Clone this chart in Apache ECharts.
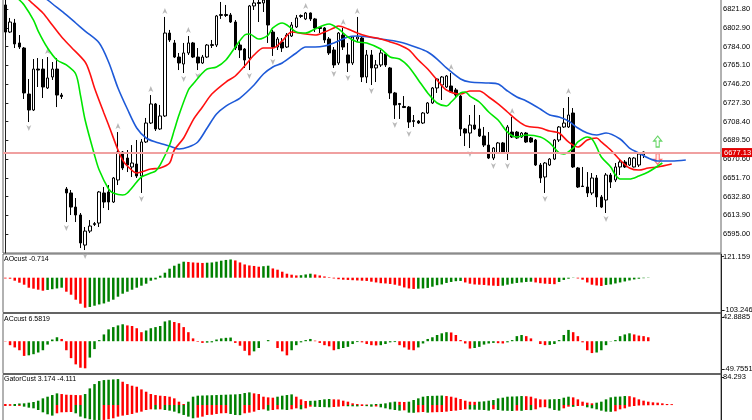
<!DOCTYPE html>
<html>
<head>
<meta charset="utf-8">
<script src="https://cdn.jsdelivr.net/npm/echarts@6/dist/echarts.min.js"></script>
<style>
html, body { margin: 0; padding: 0; background: #fff; }
#main { width: 752px; height: 420px; }
</style>
</head>
<body>
<div id="main"></div>
<script>
// bars: [open, close, low, high]
var candles = [
  [6825.9,6798.6,6790.6,6833.9],[6798.6,6808.7,6797.6,6812.8],[6807.7,6786.6,6782.5,6811.8],[6787.6,6783.5,6781.5,6795.6],
  [6782.5,6737.2,6731.1,6783.5],[6736.1,6720.0,6707.9,6751.3],[6720.0,6761.3,6719.0,6771.4],[6761.3,6760.3,6743.2,6772.4],
  [6761.3,6743.2,6732.1,6771.4],[6742.2,6752.3,6741.2,6773.4],[6753.3,6761.3,6750.3,6768.4],[6761.3,6735.1,6723.0,6772.4],
  [6735.1,6733.6,6731.1,6737.2],[6640.4,6636.4,6607.1,6642.4],[6636.4,6622.2,6614.2,6639.4],[6622.2,6614.2,6607.1,6631.3],
  [6614.2,6586.0,6580.9,6616.2],[6583.9,6598.0,6578.9,6602.1],[6598.0,6603.1,6596.0,6609.1],[6604.6,6605.6,6603.1,6607.1],
  [6606.1,6637.4,6602.1,6638.4],[6636.4,6627.3,6621.2,6642.4],[6637.4,6627.3,6619.2,6644.4],[6627.3,6651.5,6626.3,6652.5],
  [6649.5,6677.7,6644.4,6697.8],[6677.7,6661.6,6659.5,6678.7],[6671.6,6664.6,6657.5,6679.7],[6662.6,6666.6,6652.5,6684.7],
  [6665.6,6653.5,6651.5,6689.8],[6653.5,6687.8,6636.4,6690.8],[6687.8,6706.9,6686.8,6712.0],[6706.9,6726.1,6705.9,6735.1],
  [6726.1,6700.9,6698.9,6727.1],[6700.9,6714.0,6699.9,6725.1],[6714.0,6797.6,6713.0,6813.8],[6797.6,6790.6,6788.6,6800.7],
  [6787.6,6773.4,6772.4,6790.6],[6773.4,6767.4,6760.3,6777.5],[6766.4,6777.5,6757.3,6787.6],[6777.5,6787.6,6775.5,6794.6],
  [6787.6,6773.4,6772.4,6788.6],[6773.4,6767.4,6760.3,6782.5],[6767.4,6773.4,6766.4,6775.5],[6773.4,6785.5,6772.4,6786.5],
  [6785.0,6786.0,6782.5,6790.6],[6785.5,6814.8,6783.5,6815.8],[6815.3,6816.3,6811.8,6828.9],[6816.3,6815.3,6813.8,6825.9],
  [6815.8,6808.7,6807.7,6817.8],[6808.7,6782.5,6780.5,6810.7],[6785.5,6780.5,6772.4,6788.6],[6781.5,6770.4,6762.4,6782.5],
  [6772.4,6824.9,6760.3,6825.9],[6824.9,6827.9,6820.8,6835.9],[6828.4,6827.4,6808.7,6835.9],[6827.9,6830.9,6818.8,6839.0],
  [6835.9,6805.7,6787.6,6841.0],[6798.6,6783.5,6774.5,6800.7],[6783.5,6791.6,6780.5,6793.6],[6788.6,6782.5,6778.5,6792.6],
  [6783.5,6795.6,6782.5,6797.6],[6794.6,6805.7,6793.6,6808.7],[6803.7,6812.8,6802.7,6815.8],[6814.3,6815.3,6812.8,6816.3],
  [6811.8,6817.8,6810.7,6818.8],[6817.8,6811.8,6809.7,6818.3],[6811.8,6802.7,6798.6,6812.8],[6803.2,6802.2,6797.6,6803.7],
  [6802.7,6790.6,6787.6,6803.7],[6791.6,6777.5,6775.5,6793.6],[6780.5,6765.4,6762.4,6783.5],[6767.4,6797.6,6765.4,6798.6],
  [6795.6,6783.5,6780.5,6802.7],[6775.5,6767.4,6758.3,6787.6],[6767.4,6793.6,6765.4,6794.6],[6791.6,6793.6,6788.6,6813.8],
  [6792.6,6753.3,6748.2,6793.6],[6753.3,6775.5,6747.2,6780.5],[6775.5,6762.4,6745.2,6780.5],[6762.4,6765.4,6748.2,6770.4],
  [6765.4,6777.5,6763.4,6780.5],[6776.5,6765.4,6763.4,6777.5],[6762.4,6737.2,6731.1,6763.4],[6737.2,6725.1,6711.0,6738.2],
  [6726.6,6725.6,6711.0,6727.1],[6723.6,6722.5,6722.0,6734.1],[6723.0,6707.9,6701.9,6724.0],[6708.4,6709.4,6702.9,6715.0],
  [6708.9,6706.9,6705.9,6709.9],[6706.9,6717.0,6705.9,6718.0],[6717.0,6727.1,6716.0,6728.1],[6727.1,6742.2,6726.1,6743.2],
  [6742.2,6751.3,6737.2,6752.3],[6745.2,6753.3,6730.1,6754.3],[6743.2,6754.3,6742.2,6755.3],[6744.2,6738.2,6737.2,6757.3],
  [6740.2,6735.1,6733.1,6742.2],[6734.1,6700.9,6693.8,6735.1],[6700.9,6696.8,6683.7,6701.9],[6696.8,6704.9,6681.7,6715.0],
  [6704.9,6700.9,6699.9,6725.1],[6700.9,6693.8,6692.8,6715.0],[6693.8,6684.7,6682.7,6702.9],[6684.7,6671.6,6670.6,6697.8],
  [6671.6,6681.7,6669.6,6682.7],[6676.7,6686.8,6675.7,6687.8],[6686.8,6676.7,6676.2,6687.8],[6676.7,6702.9,6669.6,6704.9],
  [6697.8,6692.8,6691.8,6713.0],[6697.8,6691.8,6690.8,6698.9],[6692.8,6696.8,6691.8,6697.8],[6696.8,6687.8,6686.8,6697.8],
  [6691.8,6687.8,6686.8,6692.8],[6689.8,6664.6,6663.6,6690.8],[6664.6,6651.5,6646.5,6666.6],[6652.5,6666.6,6636.4,6667.6],
  [6664.6,6670.6,6663.6,6671.6],[6670.6,6689.8,6669.6,6690.8],[6689.8,6702.9,6687.8,6703.9],[6702.9,6706.9,6701.9,6722.0],
  [6702.9,6715.0,6701.9,6733.1],[6717.0,6662.6,6661.6,6722.0],[6661.6,6642.4,6641.4,6662.6],[6643.4,6642.9,6642.4,6662.6],
  [6642.4,6636.4,6632.3,6657.5],[6636.4,6651.5,6634.3,6656.5],[6651.5,6632.3,6622.2,6654.5],[6632.3,6622.2,6621.2,6634.3],
  [6629.3,6654.5,6616.2,6656.5],[6654.5,6647.4,6641.4,6656.5],[6649.5,6662.6,6647.4,6666.6],[6662.6,6667.6,6654.5,6669.6],
  [6667.6,6662.6,6661.6,6669.6],[6664.6,6671.6,6663.6,6672.6],[6662.6,6671.6,6662.1,6672.6],[6664.6,6675.7,6662.6,6676.7],
  [6674.7,6677.7,6671.6,6678.2],[6676.6,6677.1,6676.4,6677.4]
];

// alligator lines, [bar, price] (shifted forward past the last bar)
var jaw = [[6,6843.0],[9,6830.9],[13,6815.8],[15,6807.7],[17,6799.6],[20,6787.6],[22,6768.4],[24,6742.2],[26,6721.0],
  [28,6701.9],[30,6691.8],[32,6687.8],[35,6683.7],[37,6680.7],[39,6682.7],[41,6687.8],[43,6701.9],[45,6716.0],[47,6724.0],
  [50,6732.1],[53,6745.2],[55,6756.3],[57,6763.4],[59,6767.4],[62,6777.5],[64,6783.5],[66,6783.5],[68,6784.5],[70,6787.6],
  [73,6793.6],[75,6794.6],[80,6791.6],[84,6788.6],[88,6782.5],[90,6778.5],[92,6771.4],[94,6762.4],[97,6751.3],[99,6748.2],
  [103,6747.2],[105,6746.2],[107,6739.2],[109,6733.1],[111,6729.1],[114,6721.0],[116,6715.0],[118,6713.0],[120,6708.9],
  [122,6701.9],[124,6696.8],[126,6694.8],[128,6696.8],[131,6690.8],[133,6681.7],[135,6676.7],[137,6671.6],[139,6668.6],
  [142,6668.6],[145,6669.6]];
var teeth = [[4,6836.9],[5,6830.9],[8,6817.8],[10,6805.7],[12,6793.6],[14,6783.5],[17,6768.4],[18,6757.3],[19,6742.2],
  [21,6717.0],[22,6704.9],[24,6679.7],[25,6669.6],[26,6663.6],[28,6656.5],[29,6657.5],[31,6660.5],[33,6661.6],[35,6666.6],
  [36,6679.7],[38,6691.8],[40,6709.9],[42,6723.0],[44,6736.1],[47,6748.2],[49,6754.3],[51,6764.4],[53,6775.5],[55,6782.5],
  [57,6782.5],[59,6789.6],[61,6798.6],[64,6796.6],[66,6795.6],[68,6798.6],[70,6802.7],[71,6804.7],[73,6801.7],[75,6797.6],
  [77,6794.6],[80,6791.6],[82,6788.6],[84,6785.5],[86,6780.5],[88,6770.4],[90,6761.3],[92,6750.3],[94,6740.2],[97,6736.1],
  [99,6739.2],[101,6739.2],[103,6733.1],[105,6726.1],[107,6718.0],[109,6709.9],[111,6703.9],[114,6701.9],[116,6698.8],
  [118,6696.8],[120,6687.8],[122,6682.7],[124,6689.8],[126,6691.8],[127,6687.8],[129,6679.7],[131,6669.6],[133,6661.6],
  [135,6659.5],[137,6661.6],[139,6662.6],[142,6665.6]];
var lips = [[1,6839.0],[3,6830.9],[4,6825.9],[6,6810.7],[7,6799.6],[9,6782.5],[11,6770.4],[13,6765.4],[15,6756.3],
  [16,6735.1],[17,6709.9],[19,6674.7],[20,6659.5],[22,6640.4],[23,6636.4],[25,6634.3],[26,6636.4],[28,6647.4],[29,6652.5],
  [31,6656.5],[32,6658.5],[33,6664.6],[35,6684.7],[36,6699.8],[37,6715.0],[39,6740.2],[40,6746.2],[42,6757.3],[43,6761.3],
  [45,6763.4],[47,6770.4],[49,6783.5],[51,6795.6],[52,6796.6],[54,6791.6],[56,6795.6],[57,6802.7],[59,6807.7],[60,6805.7],
  [62,6798.6],[64,6797.6],[66,6801.7],[68,6805.7],[69,6806.7],[71,6801.7],[73,6793.6],[75,6788.6],[77,6787.6],[80,6781.5],
  [82,6773.4],[84,6771.4],[86,6763.4],[88,6750.3],[90,6737.2],[92,6727.1],[94,6724.0],[95,6728.1],[97,6737.2],[98,6738.2],
  [99,6734.1],[101,6728.1],[103,6718.0],[105,6709.9],[107,6697.8],[109,6692.8],[111,6694.8],[114,6692.8],[116,6686.8],
  [118,6676.7],[119,6675.7],[121,6681.7],[122,6687.8],[124,6692.8],[125,6690.8],[126,6682.7],[127,6672.6],[129,6662.6],
  [130,6654.5],[131,6650.5],[133,6650.5],[135,6653.5],[137,6657.5],[140,6666.6]];

var fractalUp = [9, 24, 31, 34, 39, 64, 72, 75, 95, 108, 120];
var fractalDown = [5, 13, 17, 29, 38, 41, 52, 57, 70, 73, 78, 83, 86, 99, 104, 107, 115, 128];
var signalUp = [[139, 6688.2]];
var signalDown = [[139, 6670.6]];
var lastPrice = 6677.13;
var priceTicks = [6595.00, 6613.90, 6632.80, 6651.70, 6670.60, 6689.50, 6708.40, 6727.30, 6746.20, 6765.10, 6784.00, 6802.90, 6821.80];

var aoValues = [-3,-4,-12,-20,-28,-40,-44,-48,-52,-49,-46,-43,-40,-56,-68,-88,-104,-120,-117,-112,
  -107,-103,-96,-88,-76,-64,-56,-48,-40,-32,-24,-12,-7,8,20,36,48,56,64,63,
  61,60,59,60,61,64,68,71,73,69,61,53,49,47,44,46,48,37,32,24,
  16,12,9,10,13,16,13,9,5,2,-3,-6,-8,-9,-10,-11,-12,-13,-16,-19,
  -22,-23,-25,-28,-32,-39,-43,-45,-44,-43,-41,-36,-30,-27,-21,-17,-14,-13,-19,-24,
  -27,-28,-29,-31,-32,-33,-32,-28,-24,-21,-19,-17,-16,-19,-22,-24,-25,-26,-17,-9,
  -4,-1,-3,-8,-19,-28,-31,-33,-29,-27,-23,-19,-15,-11,-7,-4,-2,-1];
var acValues = [-0.5,-7,-11,-16,-26,-25,-23,-20,-16,-6,3,7,4,-16,-30,-41,-47,-48,-29,-14,
  2,12,21,25,28,30,28,27,23,16,19,23,25,27,35,37,34,32,25,16,
  5,-1,-3,-2.5,-2,3,5,6,6.5,-3,-8,-17,-25,-18,-12,0,2,0,-12,-18,
  -25,-16,-7,-2,2,4,1,-3,-7,-9,-16,-14,-12,-10,-5,-1.5,-2,-5,-7,-7.5,
  -7,-5,-2,-1.5,-7,-11,-15,-16,-11,-4,4,7,11,14,16,15.5,11,2,-4,-13,
  -12,-10,-6,-4,-3,-3.5,-4,-2,2,9,11,9,5,0,-5,-7,-6.5,-5,2,11,
  20,16,9,-2,-16,-21,-20,-16,-7,-0.5,2,9,12,14,12,10,9,7];
var gatorUp = [3,2.5,3,4.5,5,7,9,13,20,25,30,35,33,31,30.5,30,29.5,33,50,63,
  72,75,76,77,78,70,63,58,55,47,40,33,30,28,27,25,20,10,3,10,
  25,28,28.5,29,29.5,30,30.5,31,31.5,32,33,36,38,35,33,25,23,22,25,28,
  30,32,25,17,12,12.5,13,15,17,18,17,16.5,13,10,5,3,2,1.5,2,3,
  3.5,5,8,10,9.5,9,10,15,20,25,27,27.5,28,28.5,27,25,22,18,13,10,
  9.5,10,11,13,15,20,22,25,25.5,26,27,26.5,25,20,17,16.5,17,17.5,18,22,
  25,23,17,10,7,5,7,10,17,23,25,25.5,27,26.5,23,17,13,10,8,7,5,3,2.5];
var gatorDown = [-3,-2.5,-3,-2.8,-5,-8,-10,-15,-22,-28,-32,-25,-22,-21.5,-21,-25,-35,-40,-43,-45,
  -45.5,-45,-43,-40,-35,-32,-30,-27,-23,-20,-15,-13,-13.5,-13,-15,-17,-20,-25,-30,-35,
  -40,-38,-35,-30,-29.5,-27,-25,-24.5,-27,-30,-30.5,-25,-23,-20,-15,-13,-17,-15,-13,-13.5,
  -15,-13,-10,-13,-10,-5,-5.5,-6,-6.5,-7,-6,-5,-3.5,-3.8,-4,-4.2,-3,-3.5,-5,-4.5,
  -7,-10,-13,-15,-17,-16,-23,-23.5,-22,-21,-23,-22,-21.5,-21,-20,-18,-17,-15,-13,-13.5,
  -14,-14.5,-15,-17,-13,-15,-17,-17.5,-18,-17,-17.5,-15,-15.5,-13,-7,-6.5,-10,-15,-17,-10,
  -5,-5.5,-3,-2.5,-7,-10,-13,-17,-20,-20.5,-19,-13,-10,-5,-3,-1.5,-1,-0.8,-0.6,-0.5,-0.4,-0.3,-0.2];

var aoTicks = [121.159, -103.246];
var acTicks = [42.8885, -49.7551];
var gatorTicks = [84.293];
var aoTitle = 'AOcust -0.714';
var acTitle = 'ACcust 6.5819';
var gatorTitle = 'GatorCust 3.174 -4.111';

var N = 153;
var bars = [];
for (var i = 0; i < N; i++) bars.push(i);

var FONT = 'Liberation Sans';
var GREEN = '#008000', RED = '#ff0000';
var frame = { show: true, borderColor: '#646464', borderWidth: 1, backgroundColor: '#fff' };

function rising(arr, i, useAbs) {
  if (i === 0) return false;
  return useAbs ? Math.abs(arr[i]) > Math.abs(arr[i - 1]) : arr[i] > arr[i - 1];
}
function colorBy(arr, useAbs) {
  return function (p) { return rising(arr, p.dataIndex, useAbs) ? GREEN : RED; };
}
function catAxis(grid) {
  return { type: 'category', gridIndex: grid, data: bars, show: false, boundaryGap: true };
}
function labelAxis(grid, min, max, ticks, fmt) {
  return {
    type: 'value', gridIndex: grid, position: 'right', min: min, max: max,
    axisLine: { show: true, lineStyle: { color: '#222', width: 1 } },
    axisTick: { show: true, length: 3, lineStyle: { color: '#222' }, customValues: ticks },
    axisLabel: { customValues: ticks, formatter: fmt, margin: 2, fontSize: 7.5, color: '#000', fontFamily: FONT },
    splitLine: { show: false }
  };
}

var fractalArrow = 'path://M5,0 L10,9 L5,6.5 L0,9 Z';
var blockArrow = 'path://M5,0 L10,5 L7,5 L7,11 L3,11 L3,5 L0,5 Z';

var myChart = echarts.init(document.getElementById('main'));
var option = {
  animation: false,
  backgroundColor: '#fff',
  textStyle: { fontFamily: FONT },
  title: [
    { text: aoTitle, left: 4, top: 256, padding: 0, textStyle: { fontSize: 7, fontWeight: 'normal', color: '#000', fontFamily: FONT } },
    { text: acTitle, left: 4, top: 316, padding: 0, textStyle: { fontSize: 7, fontWeight: 'normal', color: '#000', fontFamily: FONT } },
    { text: gatorTitle, left: 4, top: 376, padding: 0, textStyle: { fontSize: 7, fontWeight: 'normal', color: '#000', fontFamily: FONT } }
  ],
  grid: [
    Object.assign({ left: 3, right: 31, top: -1, height: 254, outerBoundsMode: 'none' }, frame),
    Object.assign({ left: 3, right: 31, top: 254, height: 58.5, outerBoundsMode: 'none' }, frame),
    Object.assign({ left: 3, right: 31, top: 313.5, height: 60, outerBoundsMode: 'none' }, frame),
    Object.assign({ left: 3, right: 31, top: 374.5, height: 50, outerBoundsMode: 'none' }, frame)
  ],
  xAxis: [
    catAxis(0),
    { type: 'value', gridIndex: 0, min: -0.5, max: N - 0.5, show: false },
    catAxis(1),
    catAxis(2),
    catAxis(3)
  ],
  yAxis: [
    labelAxis(0, 6575.9, 6831.9, priceTicks, function (v) { return v.toFixed(2); }),
    { type: 'value', gridIndex: 1, min: -139.2, max: 94.8, show: false },
    labelAxis(1, -113.8, 132.5, aoTicks, function (v) { return String(v); }),
    labelAxis(2, -57.19, 49.09, acTicks, function (v) { return String(v); }),
    labelAxis(3, -58.7, 91.8, gatorTicks, function (v) { return String(v); })
  ],
  series: [
    {
      type: 'candlestick', xAxisIndex: 0, yAxisIndex: 0, data: candles, barWidth: 3, clip: true,
      itemStyle: { color: '#fff', color0: '#000', borderColor: '#000', borderColor0: '#000', borderWidth: 1 },
      markLine: {
        silent: true, symbol: 'none', animation: false,
        lineStyle: { color: '#f0a0a0', width: 2, type: 'solid' },
        label: {
          position: 'end', distance: 1, formatter: lastPrice.toFixed(2),
          backgroundColor: '#e00000', color: '#fff', fontSize: 7.5, fontFamily: FONT, padding: [1, 2, 0, 2]
        },
        data: [{ yAxis: lastPrice }]
      }
    },
    { type: 'scatter', xAxisIndex: 0, yAxisIndex: 0, data: signalUp,
      symbol: blockArrow, symbolSize: [8, 11],
      itemStyle: { color: 'rgba(255,255,255,0)', borderColor: '#44cc44', borderWidth: 1.2 } },
    { type: 'scatter', xAxisIndex: 0, yAxisIndex: 0, data: signalDown,
      symbol: blockArrow, symbolSize: [8, 11], symbolRotate: 180,
      itemStyle: { color: 'rgba(255,220,220,0.6)', borderColor: '#ff5050', borderWidth: 1.2 } },
    { type: 'line', xAxisIndex: 1, yAxisIndex: 0, data: jaw, smooth: 0.3, symbol: 'none', clip: true,
      lineStyle: { color: '#1e5ad8', width: 1.6 } },
    { type: 'line', xAxisIndex: 1, yAxisIndex: 0, data: teeth, smooth: 0.3, symbol: 'none', clip: true,
      lineStyle: { color: '#ff1010', width: 1.6 } },
    { type: 'line', xAxisIndex: 1, yAxisIndex: 0, data: lips, smooth: 0.3, symbol: 'none', clip: true,
      lineStyle: { color: '#00e600', width: 1.6 } },
    { type: 'scatter', xAxisIndex: 0, yAxisIndex: 0, clip: true,
      data: fractalUp.map(function (i) { return [i, candles[i][3]]; }),
      symbol: fractalArrow, symbolSize: [5, 6], symbolOffset: [0, -6],
      itemStyle: { color: '#a8a8a8' } },
    { type: 'scatter', xAxisIndex: 0, yAxisIndex: 0, clip: true,
      data: fractalDown.map(function (i) { return [i, candles[i][2]]; }),
      symbol: fractalArrow, symbolSize: [5, 6], symbolOffset: [0, 6], symbolRotate: 180,
      itemStyle: { color: '#a8a8a8' } },
    { type: 'bar', xAxisIndex: 2, yAxisIndex: 1, data: aoValues, barWidth: 2.5,
      itemStyle: { color: colorBy(aoValues, false) } },
    { type: 'bar', xAxisIndex: 3, yAxisIndex: 3, data: acValues, barWidth: 2.5,
      itemStyle: { color: colorBy(acValues, false) } },
    { type: 'bar', xAxisIndex: 4, yAxisIndex: 4, data: gatorUp, barWidth: 2.5, barGap: '-100%',
      itemStyle: { color: colorBy(gatorUp, false) } },
    { type: 'bar', xAxisIndex: 4, yAxisIndex: 4, data: gatorDown, barWidth: 2.5, barGap: '-100%',
      itemStyle: { color: colorBy(gatorDown, true) } }
  ]
};
myChart.setOption(option);
</script>
</body>
</html>
